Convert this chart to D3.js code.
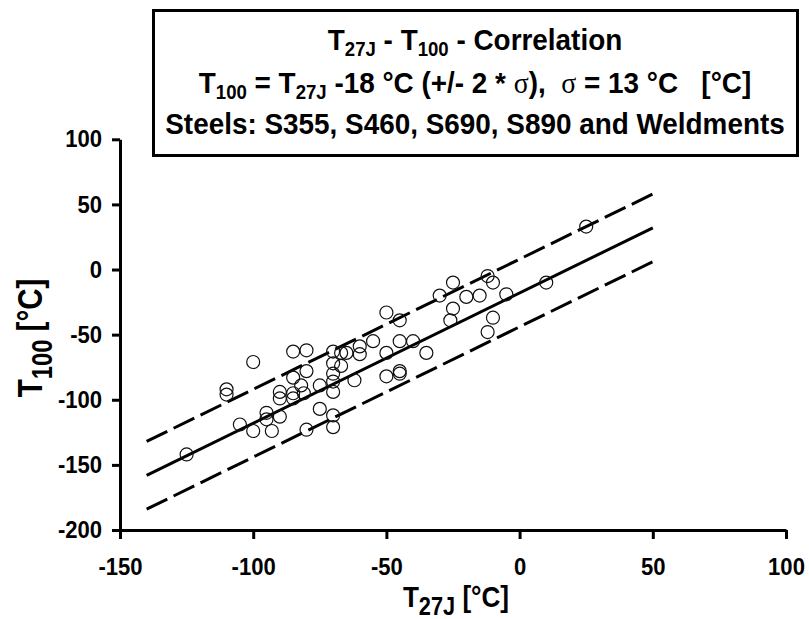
<!DOCTYPE html>
<html>
<head>
<meta charset="utf-8">
<script src="https://cdn.jsdelivr.net/npm/d3@7"></script>
<style>
  body { margin: 0; background: #fff; }
  text { font-family: "Liberation Sans", Arial, sans-serif; font-weight: bold; white-space: pre; }
</style>
</head>
<body>
<div id="chart"></div>
<script>
// measured points (T27J, T100)
const t27 = [25, 10, -12, -10, -5, -15, -20, -30, -25, -25, -26, -10, -12, -35, -40, -45, -45, -50, -55, -50,
  -50, -45, -45, -60, -60, -65, -67, -70, -70, -67, -62, -85, -80, -100, -85, -80, -70, -70, -70, -75,
  -82, -81, -90, -90, -85, -85, -110, -110, -75, -95, -95, -90, -105, -100, -93, -80, -70, -70, -125];
const t100 = [33, -10, -5, -10, -19, -20, -21, -20, -10, -30, -39, -37, -48, -64, -55, -55, -39, -33, -55, -64,
  -82, -78, -80, -59, -65, -64, -64, -63, -72, -74, -85, -63, -62, -71, -83, -78, -80, -86, -94, -89,
  -89, -95, -94, -99, -95, -99, -92, -96, -107, -110, -115, -113, -119, -124, -124, -123, -112, -121, -142];

// correlation line T100 = T27J - 18 and the +/- 2 sigma band
const lineX = [-140, 50];
const fitY = [-158, 32];
const upperY = [-132, 58];
const lowerY = [-184, 6];

const xTicks = [-150, -100, -50, 0, 50, 100];
const yTicks = [100, 50, 0, -50, -100, -150, -200];

// title lines, sub = subscript, sym = symbol font
const titleLines = [
  [{t: "T"}, {t: "27J", sub: true}, {t: " - T"}, {t: "100", sub: true}, {t: " - Correlation"}],
  [{t: "T"}, {t: "100", sub: true}, {t: " = T"}, {t: "27J", sub: true}, {t: " -18 °C (+/- 2 * "}, {t: "σ", sym: true},
   {t: "),  "}, {t: "σ", sym: true}, {t: " = 13 °C   [°C]"}],
  [{t: "Steels: S355, S460, S690, S890 and Weldments"}]
];
const xTitle = [{t: "T"}, {t: "27J", sub: true}, {t: " [°C]"}];
const yTitle = [{t: "T"}, {t: "100", sub: true}, {t: " [°C]"}];

const W = 809, H = 619;
const svg = d3.select("#chart").append("svg")
    .attr("width", W)
    .attr("height", H);

const x = d3.scaleLinear().domain([-150, 100]).range([120, 786]);
const y = d3.scaleLinear().domain([-200, 100]).range([530, 139.3]);

// write a line of text with subscripts
function richText(g, segs, size, subSize, subDy) {
    const txt = g.append("text")
        .attr("text-anchor", "middle")
        .style("font-size", size + "px");
    let down = false;
    segs.forEach(s => {
        const ts = txt.append("tspan").text(s.t);
        if (s.sub) {
            ts.style("font-size", subSize + "px").attr("dy", down ? 0 : subDy);
            down = true;
        } else {
            if (down) ts.attr("dy", -subDy);
            down = false;
        }
        if (s.sym) ts.style("font-family", "'Liberation Serif', 'DejaVu Serif', serif").style("font-weight", "normal");
    });
    return txt;
}

// axes
const fmt = d => String(d);
const xAxis = svg.append("g")
    .attr("transform", `translate(0,${y(-200)})`)
    .call(d3.axisBottom(x).tickValues(xTicks).tickFormat(fmt).tickSize(9).tickSizeOuter(0).tickPadding(19));
const yAxis = svg.append("g")
    .attr("transform", `translate(${x(-150)},0)`)
    .call(d3.axisLeft(y).tickValues(yTicks).tickFormat(fmt).tickSize(8).tickSizeOuter(0).tickPadding(10));
[xAxis, yAxis].forEach(a => {
    a.select(".domain").attr("stroke", "#000").attr("stroke-width", 3);
    a.selectAll(".tick line").attr("stroke", "#000").attr("stroke-width", 3);
    a.selectAll(".tick text")
        .attr("fill", "#000")
        .style("font-family", "'Liberation Sans', Arial, sans-serif")
        .style("font-weight", "bold")
        .style("font-size", "24px");
});
xAxis.selectAll(".tick text").attr("transform", "scale(0.92,1)");
yAxis.selectAll(".tick text").attr("transform", "scale(0.92,1)").attr("x", -19.5);

// regression and band lines
const line = d3.line().x(d => x(d[0])).y(d => y(d[1]));
svg.append("path")
    .attr("d", line(d3.zip(lineX, upperY)))
    .attr("fill", "none").attr("stroke", "#000").attr("stroke-width", 3)
    .attr("stroke-dasharray", "23,7");
svg.append("path")
    .attr("d", line(d3.zip(lineX, lowerY)))
    .attr("fill", "none").attr("stroke", "#000").attr("stroke-width", 3)
    .attr("stroke-dasharray", "23,7");
svg.append("path")
    .attr("d", line(d3.zip(lineX, fitY)))
    .attr("fill", "none").attr("stroke", "#000").attr("stroke-width", 3);

// data points
svg.selectAll("circle.pt")
    .data(d3.zip(t27, t100))
    .enter()
    .append("circle")
    .attr("class", "pt")
    .attr("cx", d => x(d[0]))
    .attr("cy", d => y(d[1]))
    .attr("r", 6.5)
    .attr("fill", "none")
    .attr("stroke", "#111")
    .attr("stroke-width", 1.2);

// title box
svg.append("rect")
    .attr("x", 153.5).attr("y", 10.5)
    .attr("width", 644).attr("height", 145)
    .attr("fill", "#fff").attr("stroke", "#000").attr("stroke-width", 3);
const baselines = [50, 93, 134];
titleLines.forEach((segs, i) => {
    const g = svg.append("g").attr("transform", `translate(475,${baselines[i]}) scale(0.93,1)`);
    richText(g, segs, 30, 20, 6);
});

// axis titles
const gx = svg.append("g").attr("transform", `translate(456,607) scale(0.87,1)`);
richText(gx, xTitle, 30, 25, 8);
const gy = svg.append("g").attr("transform", `translate(42,338) rotate(-90) scale(0.82,1)`);
richText(gy, yTitle, 36, 29, 10);
</script>
</body>
</html>
